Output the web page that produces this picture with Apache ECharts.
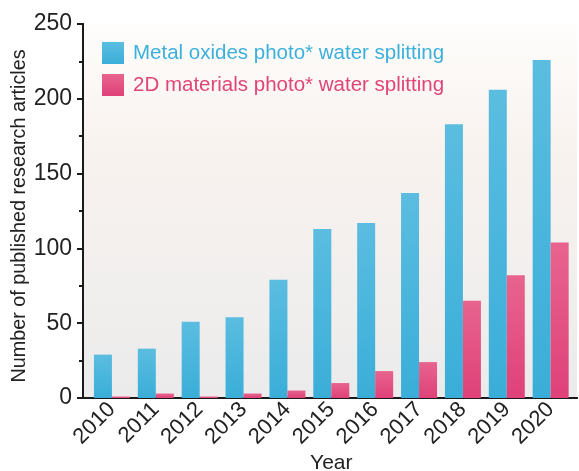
<!DOCTYPE html>
<html>
<head>
<meta charset="utf-8">
<script src="https://cdn.jsdelivr.net/npm/echarts@6/dist/echarts.min.js"></script>
<style>
html,body{margin:0;padding:0;background:#fff;}
#chart{width:579px;height:471px;}
</style>
</head>
<body>
<div id="chart"></div>
<script>
var years = ['2010','2011','2012','2013','2014','2015','2016','2017','2018','2019','2020'];
var metalOxides = [29, 33, 51, 54, 79, 113, 117, 137, 183, 206, 226];
var twoDMaterials = [1, 3, 1, 3, 5, 10, 18, 24, 65, 82, 104];
var yTicks = [0, 50, 100, 150, 200, 250];
var seriesNames = ['Metal oxides photo* water splitting', '2D materials photo* water splitting'];

var FONT = 'Liberation Sans, Arial, Helvetica, sans-serif';
var blueGrad = new echarts.graphic.LinearGradient(0,0,0,1,[{offset:0,color:'#5bbde0'},{offset:1,color:'#3aaed8'}]);
var pinkGrad = new echarts.graphic.LinearGradient(0,0,0,1,[{offset:0,color:'#e8648f'},{offset:1,color:'#df4178'}]);
var bgGrad = new echarts.graphic.LinearGradient(0,0,0,1,[
  {offset:0,color:'#fefdfb'},{offset:0.35,color:'#f8f2ee'},{offset:0.7,color:'#f1efee'},{offset:1,color:'#ebebeb'}]);

var chart = echarts.init(document.getElementById('chart'), null, {renderer:'canvas'});
var axisColor = '#1a1a1a';
chart.setOption({
  animation:false,
  backgroundColor:'#ffffff',
  textStyle:{fontFamily:FONT},
  legend:{
    orient:'vertical', left:97, top:37, itemWidth:22, itemHeight:22, itemGap:10,
    icon:'rect',
    data:[
      {name:seriesNames[0], textStyle:{color:'#3cb0dc'}},
      {name:seriesNames[1], textStyle:{color:'#e0457a'}}
    ],
    textStyle:{fontSize:20.5, fontFamily:FONT, padding:[0,0,0,4]}
  },
  grid:[
    {left:90, right:6.4, top:24, bottom:73, show:false, containLabel:false, outerBoundsMode:'none'},
    {left:83, right:2, top:24, bottom:73, show:true, backgroundColor:bgGrad, borderWidth:0, containLabel:false, outerBoundsMode:'none'}
  ],
  xAxis:[
    {gridIndex:0, type:'category', data:years,
     axisLine:{show:false}, axisTick:{show:false}, splitLine:{show:false},
     axisLabel:{rotate:45, fontSize:22, color:'#222', margin:8, fontFamily:FONT, hideOverlap:false, interval:0},
     name:'Year', nameLocation:'middle', nameGap:55, nameMoveOverlap:false,
     nameTextStyle:{fontSize:21, color:'#222', fontFamily:FONT}},
    {gridIndex:1, type:'value', min:0, max:1, position:'bottom',
     axisLine:{show:true, lineStyle:{color:axisColor, width:2}},
     axisTick:{show:false}, axisLabel:{show:false}, splitLine:{show:false}},
    {gridIndex:1, type:'value', min:0, max:1, position:'top',
     axisLine:{show:true, lineStyle:{color:axisColor, width:2}},
     axisTick:{show:false}, axisLabel:{show:false}, splitLine:{show:false}}
  ],
  yAxis:[
    {gridIndex:0, type:'value', min:0, max:250, show:false, splitLine:{show:false}},
    {gridIndex:1, type:'value', min:0, max:250, interval:50, position:'left',
     axisLine:{show:true, lineStyle:{color:axisColor, width:2}},
     axisTick:{show:true, length:6, lineStyle:{color:axisColor, width:2}},
     minorTick:{show:true, splitNumber:2, length:4, lineStyle:{color:axisColor, width:2}},
     splitLine:{show:false},
     axisLabel:{fontSize:23, color:'#222', margin:11, fontFamily:FONT,
       formatter:function(v){return yTicks.indexOf(v)>=0 ? String(v) : '';}},
     name:'Number of published research articles', nameLocation:'middle', nameGap:53, nameMoveOverlap:false,
     nameTextStyle:{fontSize:19.8, color:'#222', fontFamily:FONT, padding:[0,10,0,0]}},
    {gridIndex:1, type:'value', min:0, max:250, interval:50, position:'right',
     axisLine:{show:true, lineStyle:{color:axisColor, width:2}},
     axisTick:{show:true, inside:true, length:4, lineStyle:{color:axisColor, width:2}},
     minorTick:{show:true, splitNumber:2, length:4, lineStyle:{color:axisColor, width:2}},
     splitLine:{show:false}, axisLabel:{show:false}}
  ],
  series:[
    {name:seriesNames[0], type:'bar', xAxisIndex:0, yAxisIndex:0, data:metalOxides,
     barWidth:18, barGap:'0%', itemStyle:{color:blueGrad}, z:3},
    {name:seriesNames[1], type:'bar', xAxisIndex:0, yAxisIndex:0, data:twoDMaterials,
     barWidth:18, barGap:'0%', itemStyle:{color:pinkGrad}, z:3}
  ]
});
</script>
</body>
</html>
